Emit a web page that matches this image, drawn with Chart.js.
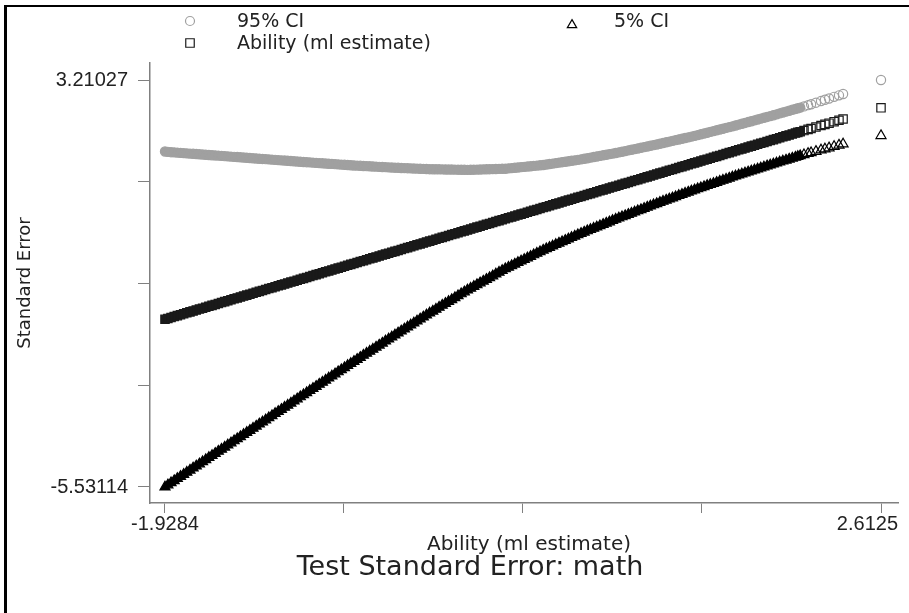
<!DOCTYPE html>
<html>
<head>
<meta charset="utf-8">
<title>Test Standard Error: math</title>
<script src="https://cdn.jsdelivr.net/npm/chart.js@4.4.1/dist/chart.umd.min.js"></script>
<style>
  html, body { margin: 0; padding: 0; background: #fff; }
  #wrap { width: 909px; height: 613px; }
</style>
</head>
<body>
<div id="wrap"><canvas id="chart" width="909" height="613"></canvas></div>
<script>
/* DATA */
const ability = [
  -1.9284, -1.91, -1.89, -1.87, -1.85, -1.83, -1.81, -1.79, -1.77, -1.75,
  -1.73, -1.71, -1.69, -1.67, -1.65, -1.63, -1.61, -1.59, -1.57, -1.55,
  -1.53, -1.51, -1.49, -1.47, -1.45, -1.43, -1.41, -1.39, -1.37, -1.35,
  -1.33, -1.31, -1.29, -1.27, -1.25, -1.23, -1.21, -1.19, -1.17, -1.15,
  -1.13, -1.11, -1.09, -1.07, -1.05, -1.03, -1.01, -0.99, -0.97, -0.95,
  -0.93, -0.91, -0.89, -0.87, -0.85, -0.83, -0.81, -0.79, -0.77, -0.75,
  -0.73, -0.71, -0.69, -0.67, -0.65, -0.63, -0.61, -0.59, -0.57, -0.55,
  -0.53, -0.51, -0.49, -0.47, -0.45, -0.43, -0.41, -0.39, -0.37, -0.35,
  -0.33, -0.31, -0.29, -0.27, -0.25, -0.23, -0.21, -0.19, -0.17, -0.15,
  -0.13, -0.11, -0.09, -0.07, -0.05, -0.03, -0.01, 0.01, 0.03, 0.05,
  0.07, 0.09, 0.11, 0.13, 0.15, 0.17, 0.19, 0.21, 0.23, 0.25,
  0.27, 0.29, 0.31, 0.33, 0.35, 0.37, 0.39, 0.41, 0.43, 0.45,
  0.47, 0.49, 0.51, 0.53, 0.55, 0.57, 0.59, 0.61, 0.63, 0.65,
  0.67, 0.69, 0.71, 0.73, 0.75, 0.77, 0.79, 0.81, 0.83, 0.85,
  0.87, 0.89, 0.91, 0.93, 0.95, 0.97, 0.99, 1.01, 1.03, 1.05,
  1.07, 1.09, 1.11, 1.13, 1.15, 1.17, 1.19, 1.21, 1.23, 1.25,
  1.27, 1.29, 1.31, 1.33, 1.35, 1.37, 1.39, 1.41, 1.43, 1.45,
  1.47, 1.49, 1.51, 1.53, 1.55, 1.57, 1.59, 1.61, 1.63, 1.65,
  1.67, 1.69, 1.71, 1.73, 1.75, 1.77, 1.79, 1.81, 1.83, 1.85,
  1.87, 1.89, 1.91, 1.93, 1.95, 1.97, 1.99, 2.01, 2.03, 2.05,
  2.07, 2.085, 2.10, 2.124, 2.150, 2.169, 2.200, 2.232, 2.257, 2.283,
  2.315, 2.346, 2.372, 2.6125
];

const ci95 = [
  1.6743, 1.667, 1.660, 1.655, 1.650, 1.645, 1.640, 1.635, 1.630, 1.625,
  1.620, 1.615, 1.610, 1.605, 1.600, 1.595, 1.590, 1.585, 1.580, 1.575,
  1.570, 1.565, 1.560, 1.555, 1.550, 1.545, 1.540, 1.535, 1.530, 1.525,
  1.520, 1.515, 1.510, 1.505, 1.500, 1.495, 1.490, 1.485, 1.480, 1.475,
  1.470, 1.465, 1.460, 1.455, 1.450, 1.445, 1.440, 1.435, 1.430, 1.426,
  1.421, 1.417, 1.412, 1.408, 1.403, 1.398, 1.393, 1.389, 1.384, 1.380,
  1.375, 1.372, 1.368, 1.364, 1.360, 1.357, 1.353, 1.349, 1.345, 1.342,
  1.338, 1.334, 1.330, 1.327, 1.324, 1.321, 1.318, 1.316, 1.313, 1.310,
  1.307, 1.304, 1.301, 1.298, 1.295, 1.294, 1.293, 1.292, 1.290, 1.289,
  1.288, 1.287, 1.285, 1.284, 1.283, 1.282, 1.280, 1.282, 1.284, 1.286,
  1.288, 1.291, 1.293, 1.295, 1.297, 1.299, 1.301, 1.303, 1.305, 1.312,
  1.318, 1.325, 1.332, 1.339, 1.345, 1.352, 1.358, 1.365, 1.372, 1.379,
  1.385, 1.395, 1.405, 1.415, 1.425, 1.435, 1.445, 1.455, 1.465, 1.475,
  1.485, 1.495, 1.505, 1.518, 1.530, 1.543, 1.555, 1.568, 1.580, 1.593,
  1.605, 1.618, 1.630, 1.643, 1.655, 1.669, 1.683, 1.698, 1.712, 1.726,
  1.740, 1.754, 1.768, 1.783, 1.797, 1.811, 1.825, 1.841, 1.856, 1.872,
  1.887, 1.903, 1.918, 1.933, 1.948, 1.964, 1.979, 1.995, 2.010, 2.027,
  2.044, 2.061, 2.078, 2.096, 2.113, 2.130, 2.147, 2.164, 2.181, 2.198,
  2.215, 2.234, 2.252, 2.270, 2.288, 2.307, 2.325, 2.344, 2.362, 2.380,
  2.398, 2.417, 2.435, 2.454, 2.473, 2.493, 2.512, 2.531, 2.550, 2.570,
  2.589, 2.604, 2.618, 2.643, 2.670, 2.690, 2.723, 2.758, 2.786, 2.814,
  2.848, 2.881, 2.909, 3.21027
];

const ci5 = [
  -5.53114, -5.486, -5.440, -5.395, -5.350, -5.305, -5.260, -5.215, -5.170, -5.125,
  -5.080, -5.035, -4.990, -4.945, -4.900, -4.855, -4.810, -4.765, -4.720, -4.675,
  -4.630, -4.585, -4.540, -4.495, -4.450, -4.405, -4.360, -4.315, -4.270, -4.225,
  -4.180, -4.135, -4.090, -4.045, -4.000, -3.955, -3.910, -3.865, -3.820, -3.775,
  -3.730, -3.685, -3.640, -3.595, -3.550, -3.505, -3.460, -3.415, -3.370, -3.326,
  -3.281, -3.237, -3.192, -3.148, -3.103, -3.058, -3.013, -2.969, -2.924, -2.880,
  -2.835, -2.792, -2.748, -2.704, -2.660, -2.617, -2.573, -2.529, -2.485, -2.442,
  -2.398, -2.354, -2.310, -2.267, -2.224, -2.181, -2.138, -2.096, -2.053, -2.010,
  -1.967, -1.924, -1.881, -1.838, -1.795, -1.754, -1.713, -1.672, -1.630, -1.589,
  -1.548, -1.507, -1.465, -1.424, -1.383, -1.342, -1.300, -1.262, -1.224, -1.186,
  -1.148, -1.111, -1.073, -1.035, -0.997, -0.959, -0.921, -0.883, -0.845, -0.812,
  -0.778, -0.745, -0.712, -0.679, -0.645, -0.612, -0.578, -0.545, -0.512, -0.479,
  -0.445, -0.415, -0.385, -0.355, -0.325, -0.295, -0.265, -0.235, -0.205, -0.175,
  -0.145, -0.115, -0.085, -0.058, -0.030, -0.003, 0.025, 0.053, 0.080, 0.108,
  0.135, 0.163, 0.190, 0.218, 0.245, 0.271, 0.297, 0.323, 0.348, 0.374,
  0.400, 0.426, 0.452, 0.478, 0.503, 0.529, 0.555, 0.580, 0.604, 0.629,
  0.653, 0.678, 0.702, 0.727, 0.752, 0.777, 0.801, 0.826, 0.850, 0.873,
  0.896, 0.919, 0.942, 0.965, 0.987, 1.010, 1.033, 1.056, 1.079, 1.102,
  1.125, 1.147, 1.168, 1.190, 1.212, 1.234, 1.255, 1.277, 1.298, 1.320,
  1.342, 1.364, 1.385, 1.406, 1.427, 1.448, 1.468, 1.489, 1.510, 1.531,
  1.551, 1.567, 1.582, 1.605, 1.630, 1.648, 1.677, 1.706, 1.728, 1.752,
  1.782, 1.811, 1.835, 2.0147
];

const xTicks = [-1.9284, -0.79318, 0.34205, 1.47727, 2.6125];
const xTickLabels = ["-1.9284", "", "", "", "2.6125"];
const yTicks = [-5.53114, -3.345788, -1.160435, 1.024918, 3.21027];
const yTickLabels = ["-5.53114", "", "", "", "3.21027"];

/* ✅ STYLE */
const WORD_FONT = "'DejaVu Sans', sans-serif";
const NUM_FONT = "'Liberation Sans', Arial, sans-serif";
const TEXT = "#222";
const AXIS = "#808080";
const DENSE_END = 2.10;   // past this the markers stand apart and show hollow

const series = [
  { label: "95% CI", y: ci95, style: "circle", radius: 4.6, color: "#a0a0a0" },
  { label: "Ability (ml estimate)", y: ability, style: "rect", radius: 5.9, color: "#1a1a1a" },
  { label: "5% CI", y: ci5, style: "triangle", radius: 5.8, color: "#000" }
];

const datasets = series.map(s => ({
  label: s.label,
  data: ability.map((x, i) => ({ x: x, y: s.y[i] })),
  showLine: false,
  pointStyle: s.style,
  pointRadius: s.radius,
  pointBorderWidth: 1.2,
  borderColor: s.color,
  pointBorderColor: s.color,
  pointBackgroundColor: ctx => (ctx.raw && ctx.raw.x <= DENSE_END) ? s.color : "rgba(0,0,0,0)"
}));

/* ✅ FRAME, LEGEND, TITLES */
const decor = {
  id: "decor",
  beforeDraw(chart) {
    const ctx = chart.ctx;
    ctx.save();
    ctx.fillStyle = "#fff";
    ctx.fillRect(0, 0, chart.width, chart.height);
    ctx.fillStyle = "#000";
    ctx.fillRect(4, 5, 3, chart.height - 5);
    ctx.fillRect(4, 5, chart.width - 4, 2);
    ctx.restore();
  },
  afterDraw(chart) {
    const ctx = chart.ctx;
    const xs = chart.scales.x;
    ctx.save();
    ctx.fillStyle = TEXT;

    // legend
    const items = [
      { s: series[0], r: 4.5, mx: 190, my: 21, tx: 237, ty: 27 },
      { s: series[2], r: 5.4, mx: 572, my: 25, tx: 614, ty: 27 },
      { s: series[1], r: 6.0, mx: 190, my: 43, tx: 237, ty: 49 }
    ];
    ctx.font = "19px " + WORD_FONT;
    ctx.textAlign = "left";
    ctx.textBaseline = "alphabetic";
    items.forEach(it => {
      ctx.strokeStyle = it.s.color;
      ctx.fillStyle = "rgba(0,0,0,0)";
      ctx.lineWidth = 1.2;
      Chart.helpers.drawPoint(ctx, {
        pointStyle: it.s.style,
        radius: it.r,
        borderWidth: 1.2,
        rotation: 0
      }, it.mx, it.my);
      ctx.fillStyle = TEXT;
      ctx.fillText(it.s.label, it.tx, it.ty);
    });

    // x tick labels, kept inside the axis at the right end
    ctx.font = "20px " + NUM_FONT;
    ctx.textAlign = "center";
    xTicks.forEach((v, i) => {
      const lab = xTickLabels[i];
      if (!lab) return;
      const w = ctx.measureText(lab).width;
      const cx = Math.min(xs.getPixelForValue(v), xs.right - w / 2);
      ctx.fillText(lab, cx, 530);
    });

    // axis titles + chart title
    ctx.font = "20px " + WORD_FONT;
    ctx.fillText("Ability (ml estimate)", 529, 550);
    ctx.font = "27px " + WORD_FONT;
    ctx.fillText("Test Standard Error: math", 470, 575);

    ctx.translate(25, 283);
    ctx.rotate(-Math.PI / 2);
    ctx.font = "18px " + WORD_FONT;
    ctx.textBaseline = "middle";
    ctx.fillText("Standard Error", 0, 0);
    ctx.restore();
  }
};

/* ✅ CHART */
new Chart(document.getElementById("chart"), {
  type: "scatter",
  data: { datasets: datasets },
  plugins: [decor],
  options: {
    responsive: false,
    animation: false,
    events: [],
    layout: { padding: { top: 63, right: 11, left: 0, bottom: 0 } },
    plugins: { legend: { display: false }, tooltip: { enabled: false }, title: { display: false } },
    scales: {
      x: {
        type: "linear",
        min: -2.0235,
        max: 2.7203,
        afterBuildTicks: s => { s.ticks = xTicks.map(v => ({ value: v })); },
        afterFit: s => { s.height = 110; },
        ticks: { autoSkip: false, maxRotation: 0, callback: () => "" },
        grid: { drawOnChartArea: false, drawTicks: true, tickLength: 10, color: AXIS },
        border: { display: true, color: AXIS, width: 1.5 }
      },
      y: {
        type: "linear",
        min: -5.8748,
        max: 3.5754,
        afterBuildTicks: s => { s.ticks = yTicks.map(v => ({ value: v })); },
        afterFit: s => { s.width = 150; },
        ticks: {
          autoSkip: false,
          padding: 10,
          color: TEXT,
          font: { family: NUM_FONT, size: 20 },
          callback: (v, i) => yTickLabels[i]
        },
        grid: { drawOnChartArea: false, drawTicks: true, tickLength: 12, color: AXIS },
        border: { display: true, color: AXIS, width: 1.5 }
      }
    }
  }
});
</script>
</body>
</html>
